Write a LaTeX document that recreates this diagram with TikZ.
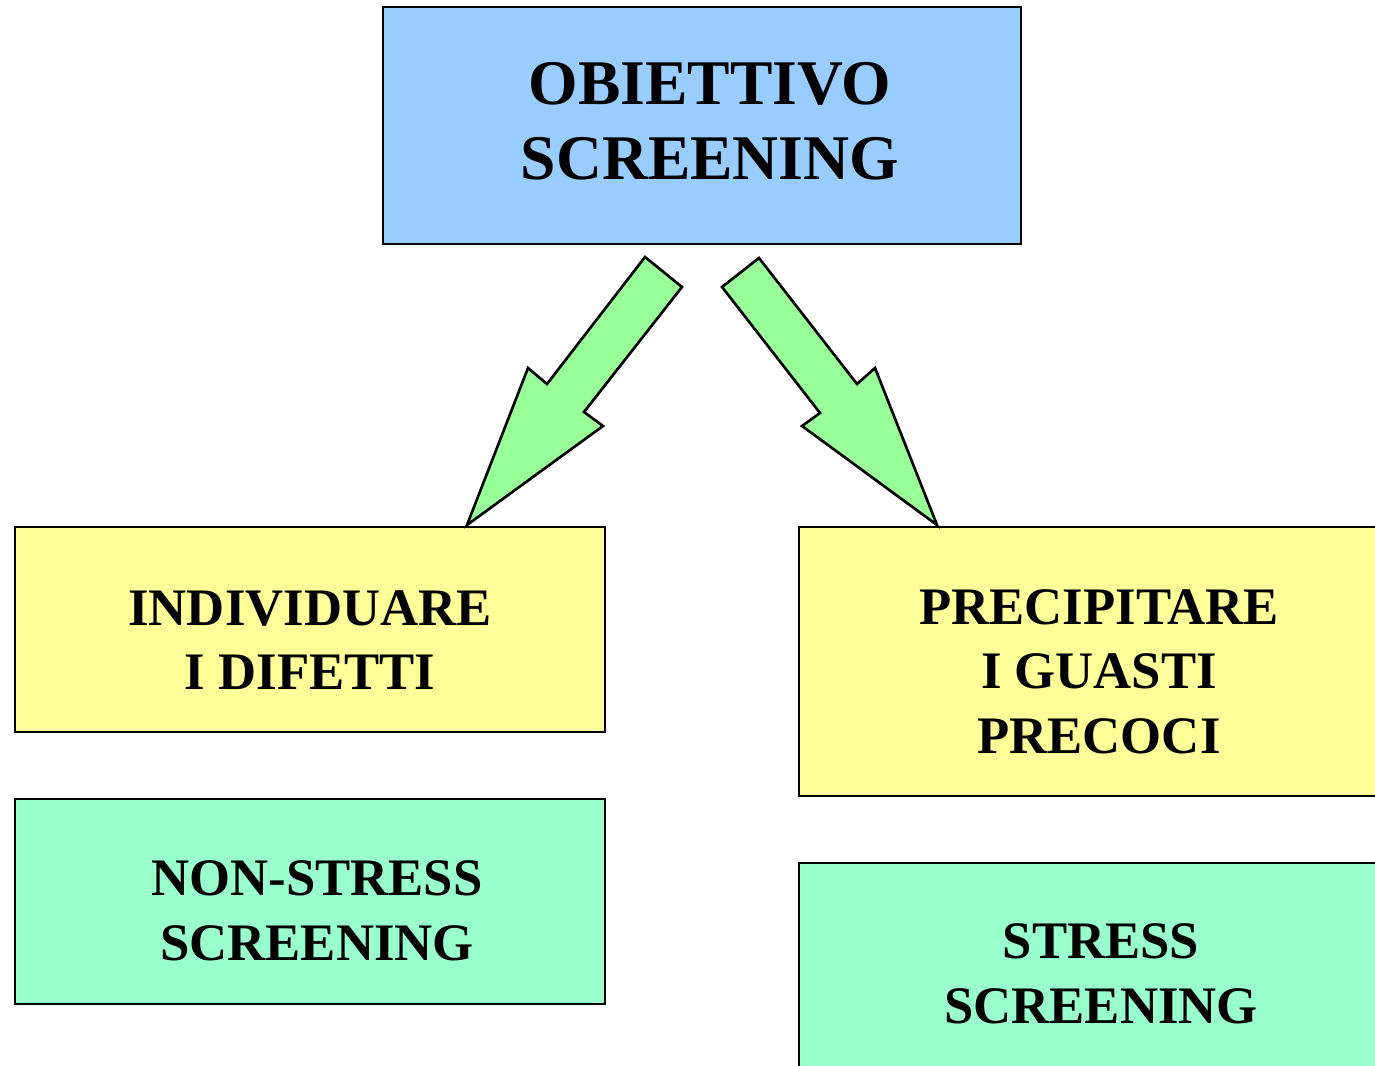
\documentclass[tikz,border=0pt]{standalone}
\usepackage{fontspec}
\setmainfont{Liberation Serif}
\usepackage{tikz}
\usetikzlibrary{positioning}

\definecolor{skyblue}{HTML}{99CCFF}
\definecolor{paleyellow}{HTML}{FFFF99}
\definecolor{mintgreen}{HTML}{99FFCC}
\definecolor{arrowgreen}{HTML}{99FF99}

\tikzset{
  box/.style={draw, line width=0.75pt, outer sep=0pt, inner sep=0pt},
  bigtext/.style={font=\bfseries\fontsize{18.1}{21.3}\selectfont, align=center, inner sep=0pt},
  smalltext/.style={font=\bfseries\fontsize{15}{18.4}\selectfont, align=center, inner sep=0pt},
  blockarrow/.style={draw, line width=0.75pt, fill=arrowgreen, line join=miter}
}

\begin{document}
\begin{tikzpicture}
\useasboundingbox (0,0) rectangle (13.75,-10.66);
\clip (0,0) rectangle (13.75,-10.66);

% boxes
\node[box, fill=skyblue, minimum width=6.38cm, minimum height=2.37cm, anchor=north west] (obj) at (3.83,-0.07) {};%
\node[box, fill=paleyellow, minimum width=5.90cm, minimum height=2.05cm, anchor=north west] (indiv) at (0.15,-5.27) {};%
\node[box, fill=paleyellow, minimum width=5.86cm, minimum height=2.69cm, anchor=north west] (prec) at (7.99,-5.27) {};%
\node[box, fill=mintgreen, minimum width=5.90cm, minimum height=2.05cm, below=0.67cm of indiv] (nonstress) {};%
\node[box, fill=mintgreen, minimum width=5.86cm, minimum height=2.13cm, below=0.67cm of prec] (stress) {};%

% texts
\node[bigtext] (obj-t) at (7.1,-1.21) {OBIETTIVO\\SCREENING};%
\node[smalltext] (indiv-t) at (3.1,-6.40) {INDIVIDUARE\\I DIFETTI};%
\node[smalltext] (prec-t) at (10.99,-6.715) {PRECIPITARE\\I GUASTI\\PRECOCI};%
\node[smalltext] (nonstress-t) at (3.17,-9.105) {NON-STRESS\\SCREENING};%
\node[smalltext] (stress-t) at (11.01,-9.74) {STRESS\\SCREENING};%

% arrows
\draw[blockarrow] (6.45,-2.57) -- (6.82,-2.87) -- (5.84,-4.12) -- (6.03,-4.26) -- (4.67,-5.25) -- (5.28,-3.68) -- (5.47,-3.84) -- cycle;
\draw[blockarrow] (7.59,-2.58) -- (7.22,-2.87) -- (8.20,-4.13) -- (8.02,-4.26) -- (9.37,-5.25) -- (8.75,-3.68) -- (8.57,-3.84) -- cycle;

\end{tikzpicture}
\end{document}
